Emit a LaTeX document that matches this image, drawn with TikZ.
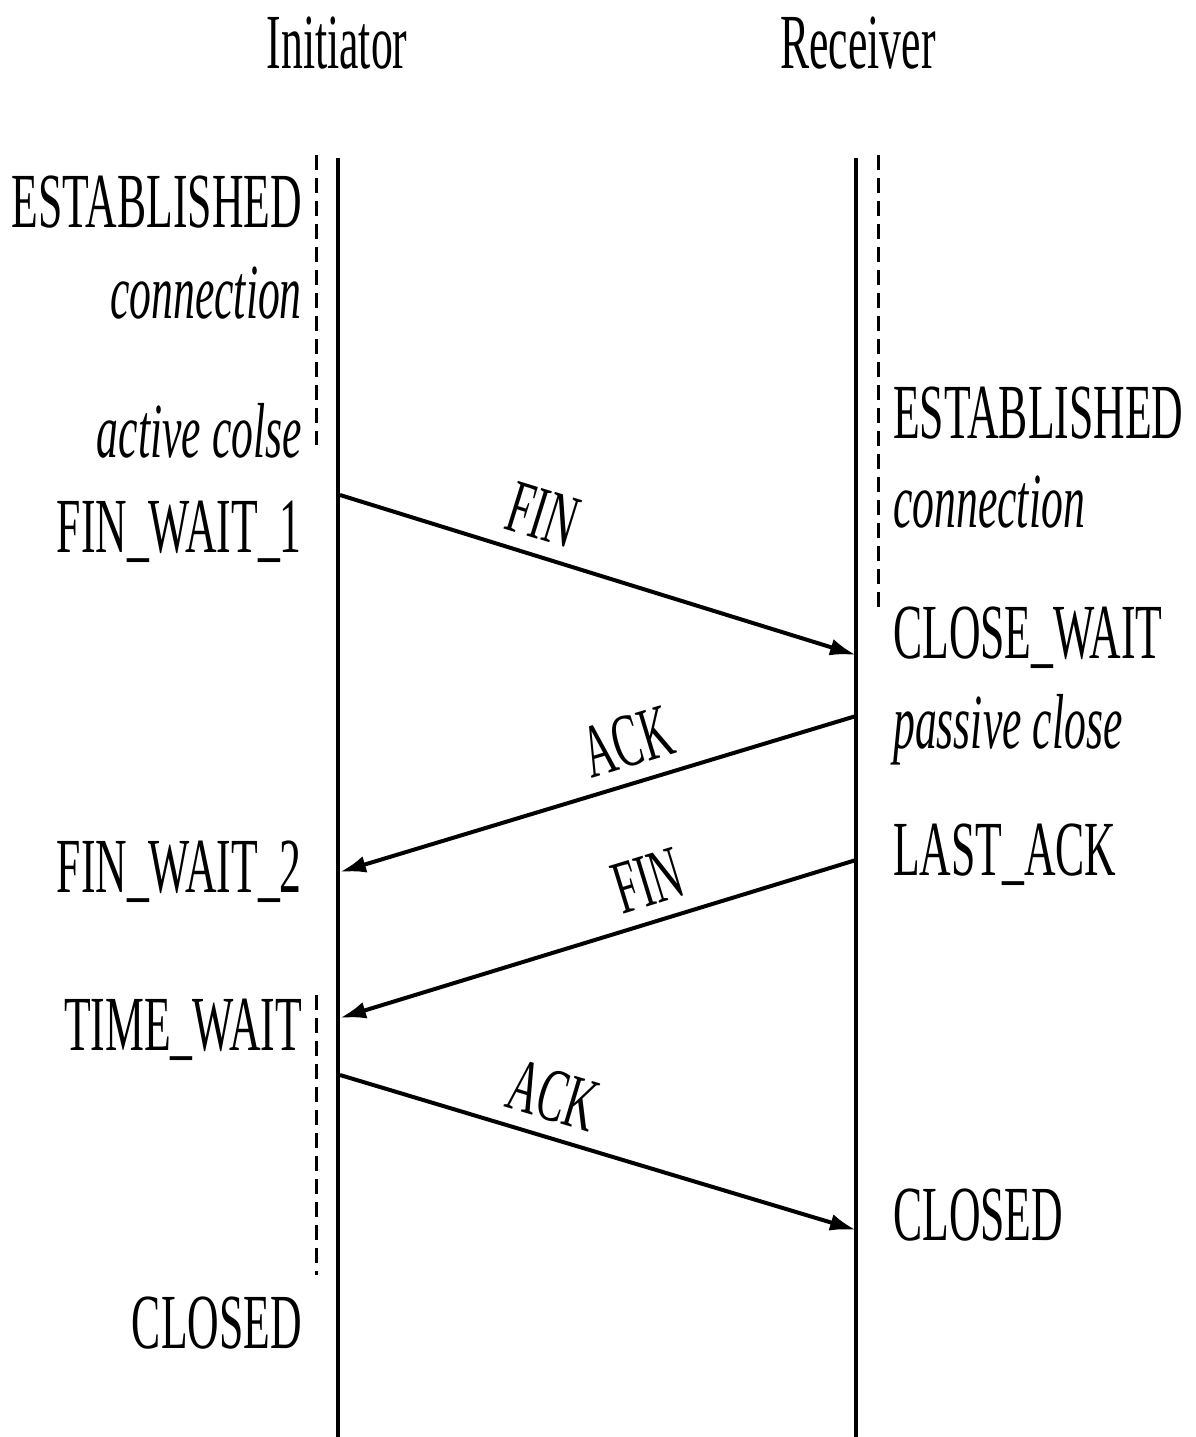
\documentclass[tikz,border=0pt]{standalone}
\usepackage{graphicx}
\usepackage{fontspec}
\newfontfamily\cond[FakeStretch=0.56]{Liberation Serif}
\newfontfamily\plainserif{Liberation Serif}
\newcommand\squeezed[1]{\scalebox{0.56}[1]{#1}}
\usetikzlibrary{arrows.meta}
\begin{document}
\begin{tikzpicture}[x=1pt,y=-1pt,
  lbl/.style={font=\cond\fontsize{78}{90}\selectfont, inner sep=0pt},
  lft/.style={lbl, anchor=base east},
  rgt/.style={lbl, anchor=base west},
  life/.style={line width=3.2pt, black},
  dashln/.style={line width=3pt, dash pattern=on 15pt off 8pt},
  msg/.style={line width=4pt, -{Latex[length=26pt,width=17pt]}},
  mlbl/.style={font=\plainserif\fontsize{76}{90}\selectfont, sloped, above, inner sep=14pt}]
\useasboundingbox (0,0) rectangle (1195,1437);
% titles
\node[lbl, anchor=base] (ini) at (337,68) {Initiator};
\node[lbl, anchor=base] (rec) at (858,68) {Receiver};
% lifelines
\coordinate (itop) at (338,158); \coordinate (ibot) at (338,1437);
\coordinate (rtop) at (856,158); \coordinate (rbot) at (856,1437);
\draw[life] (itop) -- (ibot);
\draw[life] (rtop) -- (rbot);
% dashed state bars
\coordinate (d1a) at (316,155); \coordinate (d1b) at (316,445);
\coordinate (d2a) at (316,995); \coordinate (d2b) at (316,1275);
\coordinate (d3a) at (878,155); \coordinate (d3b) at (878,612);
\draw[dashln] (d1a) -- (d1b);
\draw[dashln] (d2a) -- (d2b);
\draw[dashln] (d3a) -- (d3b);
% left states
\node[lft] (lest) at (302,227) {ESTABLISHED};
\node[lft] (lcon) at (302,318) {\itshape connection};
\node[lft] (lact) at (302,457) {\itshape active colse};
\node[lft] (lfw1) at (302,552) {FIN\_WAIT\_1};
\node[lft] (lfw2) at (302,892) {FIN\_WAIT\_2};
\node[lft] (ltw) at (302,1050) {TIME\_WAIT};
\node[lft] (lcl) at (302,1348) {CLOSED};
% right states
\node[rgt] (rest) at (893,438) {ESTABLISHED};
\node[rgt] (rcon) at (893,527) {\itshape connection};
\node[rgt] (rcw) at (893,658) {CLOSE\_WAIT};
\node[rgt] (rpas) at (893,748) {\itshape passive close};
\node[rgt] (rla) at (893,875) {LAST\_ACK};
\node[rgt] (rcl) at (893,1240) {CLOSED};
% message endpoints
\coordinate (a1) at (340,495); \coordinate (b1) at (856,655);
\coordinate (a2) at (856,716); \coordinate (b2) at (340,872);
\coordinate (a3) at (856,860); \coordinate (b3) at (340,1018);
\coordinate (a4) at (340,1075); \coordinate (b4) at (856,1230);
\draw[msg] (a1) -- node[mlbl, pos=0.37] (m1) {\squeezed{FIN}} (b1);
\draw[msg] (a2) -- node[mlbl, pos=0.42] (m2) {\squeezed{ACK}} (b2);
\draw[msg] (a3) -- node[mlbl, pos=0.38] (m3) {\squeezed{FIN}} (b3);
\draw[msg] (a4) -- node[mlbl, pos=0.39] (m4) {\squeezed{ACK}} (b4);
\end{tikzpicture}
\end{document}
